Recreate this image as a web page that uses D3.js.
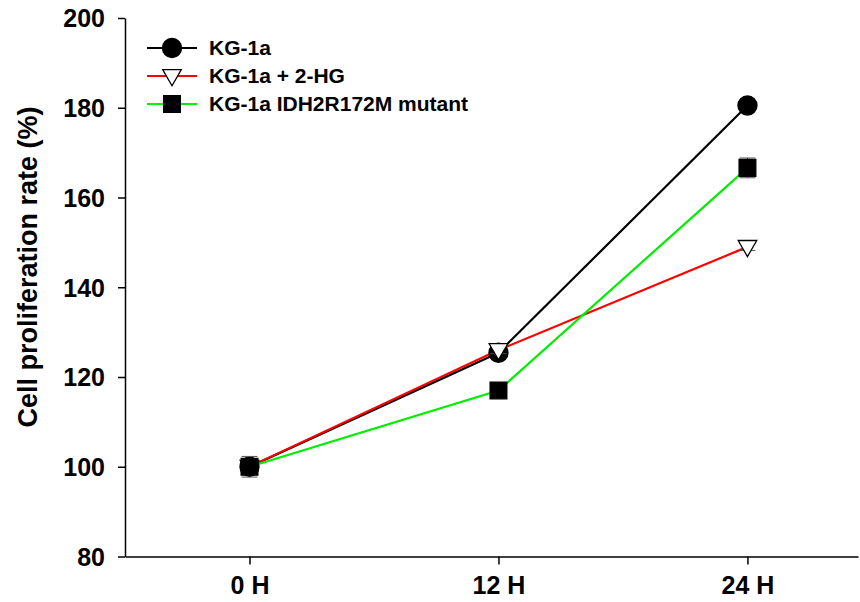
<!DOCTYPE html>
<html>
<head>
<meta charset="utf-8">
<script src="https://cdn.jsdelivr.net/npm/d3@7"></script>
<style>
body { margin: 0; background: #fff; }
text { font-family: "Liberation Sans", Arial, sans-serif; font-weight: bold; fill: #000; }
</style>
</head>
<body>
<svg id="chart" width="860" height="602"></svg>
<script>
const categories = ["0 H", "12 H", "24 H"];
const seriesNames = ["KG-1a", "KG-1a + 2-HG", "KG-1a IDH2R172M mutant"];
const kg1a = [100, 125.4, 180.5];
const kg1aErr = [0.6, 0.8, 1.0];
const kg1aHG = [100, 126, 149];
const kg1aHGErr = [0.6, 0.8, 0.8];
const mutant = [100, 117, 166.6];
const mutantErr = [2.3, 1.0, 2.2];
const yTicks = [80, 100, 120, 140, 160, 180, 200];

const svg = d3.select("#chart");
const x = d3.scaleLinear().domain([-0.5, 2.444]).range([125, 858]);
const y = d3.scaleLinear().domain([80, 200]).range([556.5, 18]);

const series = [
  { name: seriesNames[0], values: kg1a, err: kg1aErr, color: "#000000", symbol: d3.symbolCircle, size: 285, fill: "#000", rot: 0 },
  { name: seriesNames[1], values: kg1aHG, err: kg1aHGErr, color: "#ff0000", symbol: d3.symbolTriangle, size: 150, fill: "#fff", rot: 180 },
  { name: seriesNames[2], values: mutant, err: mutantErr, color: "#00ee00", symbol: d3.symbolSquare, size: 280, fill: "#000", rot: 0 }
];

// Axes
const yAxis = d3.axisLeft(y).tickValues(yTicks).tickSize(7).tickPadding(13).tickSizeOuter(0);
const gy = svg.append("g").attr("transform", "translate(125,0)").call(yAxis);
gy.selectAll("text").style("font-size", "25px").attr("dy", "0.35em");
gy.select(".domain").attr("stroke", "#000").attr("stroke-width", 1.5);
gy.selectAll(".tick line").attr("stroke-width", 1.5);

const xAxis = d3.axisBottom(x).tickValues([0, 1, 2]).tickFormat(i => categories[i]).tickSize(8).tickPadding(12).tickSizeOuter(0);
const gx = svg.append("g").attr("transform", "translate(0,556.5)").call(xAxis);
gx.selectAll("text").style("font-size", "25px");
gx.select(".domain").attr("stroke", "#000").attr("stroke-width", 1.5);
gx.selectAll(".tick line").attr("stroke-width", 1.5);

// Y label
svg.append("text")
  .attr("transform", "translate(37,267) rotate(-90)")
  .attr("text-anchor", "middle")
  .style("font-size", "27px")
  .text("Cell proliferation rate (%)");

const line = d3.line().x((d, i) => x(i)).y(d => y(d));

series.forEach(s => {
  svg.append("path")
    .attr("d", line(s.values))
    .attr("fill", "none")
    .attr("stroke", s.color)
    .attr("stroke-width", 2.2);
});

series.forEach(s => {
  const g = svg.append("g");
  s.values.forEach((v, i) => {
    const cx = x(i);
    g.append("line").attr("x1", cx).attr("x2", cx).attr("y1", y(v - s.err[i])).attr("y2", y(v + s.err[i]))
      .attr("stroke", "#000").attr("stroke-width", 1);
    [v - s.err[i], v + s.err[i]].forEach(e => {
      g.append("line").attr("x1", cx - 8).attr("x2", cx + 8).attr("y1", y(e)).attr("y2", y(e))
        .attr("stroke", "#555").attr("stroke-width", 1);
    });
    g.append("path")
      .attr("d", d3.symbol().type(s.symbol).size(s.size)())
      .attr("transform", `translate(${cx},${y(v) + (s.rot ? -1 : 0)}) rotate(${s.rot})`)
      .attr("fill", s.fill)
      .attr("stroke", "#000")
      .attr("stroke-width", 1.3);
  });
});

// Legend
const legendY = [48, 76, 104];
series.forEach((s, i) => {
  const ly = legendY[i];
  svg.append("line").attr("x1", 147).attr("x2", 197).attr("y1", ly).attr("y2", ly)
    .attr("stroke", s.color).attr("stroke-width", 2.2);
  svg.append("path")
    .attr("d", d3.symbol().type(s.symbol).size(s.size)())
    .attr("transform", `translate(172,${ly + (s.rot ? -1 : 0)}) rotate(${s.rot})`)
    .attr("fill", s.fill).attr("stroke", "#000").attr("stroke-width", 1.3);
  svg.append("text").attr("x", 209).attr("y", ly).attr("dy", "0.35em")
    .style("font-size", "21px").text(s.name);
});
</script>
</body>
</html>
